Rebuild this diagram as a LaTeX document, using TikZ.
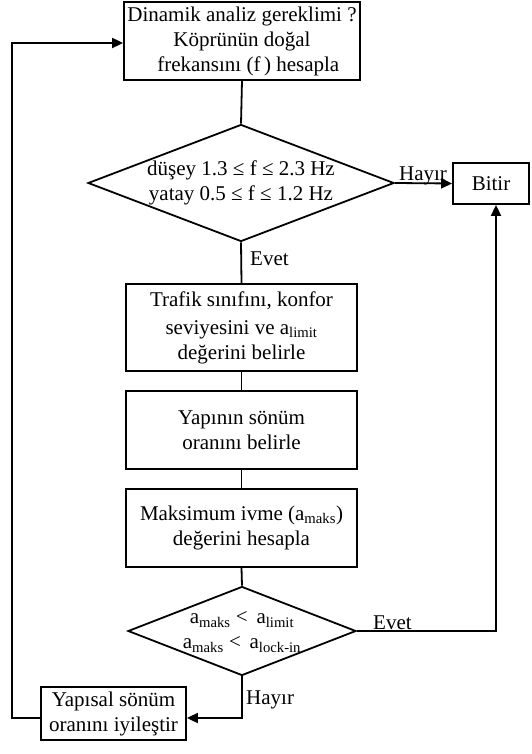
\documentclass[tikz,border=0pt]{standalone}
\usepackage{fontspec}
\setmainfont{Liberation Serif}
\usetikzlibrary{shapes.geometric,arrows.meta,calc}
\begin{document}
\begin{tikzpicture}[x=1pt,y=-1pt,
  every node/.style={font=\fontsize{21}{25}\selectfont},
  box/.style={draw,line width=1.8pt,align=center,inner sep=0pt},
  dia/.style={draw,line width=1.8pt,diamond,inner sep=0pt},
  txt/.style={align=center,inner sep=0pt},
  lbl/.style={inner sep=0pt},
  conn/.style={line width=1.8pt},
  arr/.style={line width=1.8pt,-{Triangle[length=11pt,width=10pt]}}]
\useasboundingbox (0,0) rectangle (532,754);
\fill[white] (0,0) rectangle (532,754);

\node[box,minimum width=236pt,minimum height=78pt] (start) at (242,41)
  {Dinamik analiz gereklimi ?\\Köprünün doğal\\\hspace{0.6em}frekansını (f\,) hesapla};

\node[dia,minimum width=306pt,minimum height=117pt] (d1) at (241,183) {};
\node[txt] (d1t) at (241,183) {düşey 1.3 ≤ f ≤ 2.3 Hz\\yatay 0.5 ≤ f ≤ 1.2 Hz};

\node[box,minimum width=76pt,minimum height=41pt] (end) at (491,183.5) {Bitir};

\node[box,minimum width=231pt,minimum height=87pt] (b2) at (241.5,327.5)
  {Trafik sınıfını, konfor\\[3pt]seviyesini ve a\textsubscript{limit}\\değerini belirle};

\node[box,minimum width=231pt,minimum height=78pt] (b3) at (241.5,430)
  {Yapının sönüm\\oranını belirle};

\node[box,minimum width=231pt,minimum height=78pt] (b4) at (241.5,528)
  {Maksimum ivme (a\textsubscript{maks})\\değerini hesapla};

\node[dia,minimum width=228pt,minimum height=89pt] (d2) at (242,631) {};
\node[txt] (d2t) at (242,632) {a\textsubscript{maks} <\, a\textsubscript{limit}\\a\textsubscript{maks} <\, a\textsubscript{lock-in}};

\node[box,minimum width=145pt,minimum height=53pt] (fix) at (113.5,713.5)
  {Yapısal sönüm\\oranını iyileştir};

\node[lbl,anchor=base] (l1) at (423,180) {Hayır};
\node[lbl,anchor=base west] (l2) at (250,265) {Evet};
\node[lbl,anchor=base west] (l3) at (373,629) {Evet};
\node[lbl,anchor=base west] (l4) at (246,704) {Hayır};

\coordinate (fixin) at ($(fix.east)+(0,4.5)$);
\coordinate (fixout) at ($(fix.west)+(0,4.5)$);
\coordinate (startin) at ($(start.west)+(0,2)$);
\coordinate (lb) at (12,718);
\coordinate (lt) at (12,43);
\coordinate (rc) at (496,631);

\draw[conn] (start.south) -- (d1.north);
\draw[arr] (d1.east) -- (end.west);
\draw[conn] (d1.south) -- (b2.north);
\draw[conn] (b2.south) -- (b3.north);
\draw[conn] (b3.south) -- (b4.north);
\draw[conn] (b4.south) -- (d2.north);
\draw[arr] (d2.east) -- (rc) -- (rc |- end.south);
\draw[arr] (d2.south) |- (fixin);
\draw[arr] (fixout) -- (lb) -- (lt) -- (startin);
\end{tikzpicture}
\end{document}
